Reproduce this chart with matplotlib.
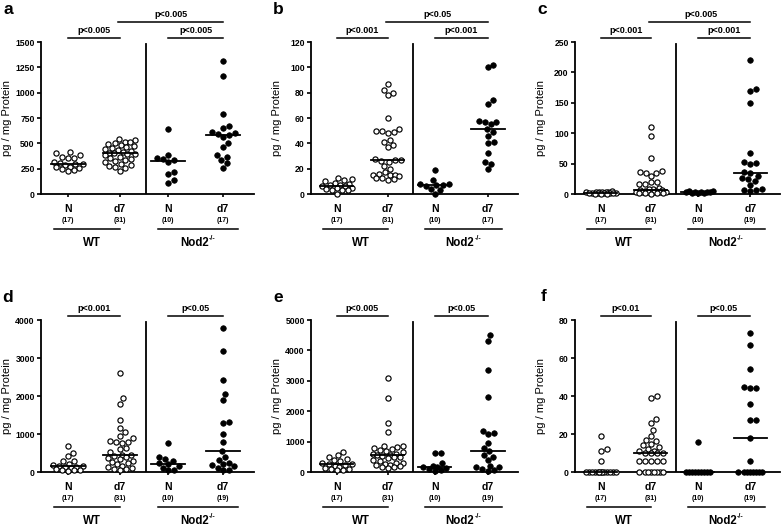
import numpy as np
import matplotlib
matplotlib.use('Agg')
import matplotlib.pyplot as plt

plt.rcParams['font.family'] = ['Liberation Sans', 'DejaVu Sans']
plt.rcParams['font.weight'] = 'bold'

# ---- data (pg / mg protein) ----
a_wt_n = [410, 400, 380, 370, 360, 355, 320, 310, 300, 295, 290, 270, 265, 260, 250, 235, 230]
a_wt_d7 = [540, 530, 510, 510, 500, 490, 480, 470, 460, 450, 440, 430, 420, 410, 405, 400,
           395, 390, 380, 370, 360, 350, 340, 330, 320, 300, 290, 280, 270, 260, 230]
a_ko_n = [640, 380, 360, 350, 340, 320, 220, 200, 140, 110]
a_ko_d7 = [1310, 1160, 790, 670, 650, 610, 600, 590, 585, 560, 500, 460, 380, 370, 340, 310, 260]

b_wt_n = [13, 12, 11, 10, 9, 8, 7, 7, 6, 6, 5, 5, 4, 3, 3, 3, 0]
b_wt_d7 = [87, 82, 80, 78, 60, 51, 50, 50, 49, 48, 43, 41, 39, 37, 28, 27,
           27, 26, 25, 22, 20, 17, 16, 15, 15, 15, 14, 13, 13, 12, 11]
b_ko_n = [19, 11, 8, 8, 7, 7, 6, 4, 3, 0]
b_ko_d7 = [102, 100, 74, 71, 58, 57, 57, 55, 51, 49, 46, 41, 40, 32, 25, 24, 20]

c_wt_n = [5, 4, 4, 4, 3, 3, 3, 2, 2, 2, 1, 1, 1, 1, 0, 0, 0]
c_wt_d7 = [110, 95, 60, 38, 36, 35, 34, 29, 20, 19, 17, 16, 10, 9, 8, 7,
           6, 5, 5, 4, 4, 4, 3, 3, 3, 3, 2, 2, 1, 1, 0]
c_ko_n = [5, 5, 4, 4, 3, 3, 3, 2, 2, 1]
c_ko_d7 = [220, 172, 170, 150, 68, 52, 51, 50, 37, 34, 30, 26, 24, 22, 15, 8, 7, 6, 5]

d_wt_n = [680, 490, 420, 300, 280, 200, 180, 160, 150, 130, 120, 100, 80, 60, 50, 40, 30]
d_wt_d7 = [2600, 1940, 1800, 1360, 1170, 1050, 950, 900, 820, 800, 780, 760, 640, 610, 530, 450,
           440, 420, 400, 380, 350, 300, 260, 240, 200, 160, 130, 110, 90, 80, 60]
d_ko_n = [760, 400, 350, 300, 230, 210, 150, 100, 60, 40]
d_ko_d7 = [3800, 3180, 2430, 2050, 1900, 1320, 1300, 990, 800, 540,
           400, 320, 250, 200, 180, 150, 100, 60, 40]

e_wt_n = [650, 560, 500, 430, 400, 350, 300, 270, 250, 240, 200, 160, 130, 110, 100, 80, 60]
e_wt_d7 = [3080, 2450, 1600, 1320, 850, 840, 830, 780, 750, 720, 680, 650, 600, 580, 560, 550,
           530, 500, 480, 450, 400, 350, 300, 280, 260, 240, 220, 200, 180, 160, 140]
e_ko_n = [640, 620, 300, 200, 160, 150, 140, 100, 60, 40]
e_ko_d7 = [4500, 4320, 3350, 2480, 1360, 1280, 1250, 950, 800, 680,
           560, 500, 400, 200, 180, 150, 100, 60, 40]

f_wt_n = [19, 12, 11, 6, 0, 0, 0, 0, 0, 0, 0, 0, 0, 0, 0, 0, 0]
f_wt_d7 = [40, 39, 28, 26, 22, 19, 17, 16.5, 15, 14, 13, 12, 11, 11, 10, 10,
           10, 10, 6, 6, 6, 6, 6, 0, 0, 0, 0, 0, 0, 0, 0]
f_ko_n = [16, 0, 0, 0, 0, 0, 0, 0, 0, 0]
f_ko_d7 = [73, 67, 54, 45, 44, 44, 36, 27.5, 27.5, 18, 6, 0, 0, 0, 0, 0, 0, 0, 0]

group_labels = ['N', 'd7', 'N', 'd7']
genotypes = ['WT', 'Nod2']
ko_sup = '-/-'
panel_letters = ['a', 'b', 'c', 'd', 'e', 'f']
y_max = [1500, 120, 250, 4000, 5000, 80]
y_step = [250, 20, 50, 1000, 1000, 20]
n_labels = [[17, 31, 10, 17], [17, 31, 10, 17], [17, 31, 10, 19],
            [17, 31, 10, 19], [17, 31, 10, 19], [17, 31, 10, 19]]
p_wt = ['p<0.005', 'p<0.001', 'p<0.001', 'p<0.001', 'p<0.005', 'p<0.01']
p_cross = ['p<0.005', 'p<0.05', 'p<0.005', None, None, None]
p_ko = ['p<0.005', 'p<0.001', 'p<0.001', 'p<0.05', 'p<0.05', 'p<0.05']

panel_data = [
    [a_wt_n, a_wt_d7, a_ko_n, a_ko_d7],
    [b_wt_n, b_wt_d7, b_ko_n, b_ko_d7],
    [c_wt_n, c_wt_d7, c_ko_n, c_ko_d7],
    [d_wt_n, d_wt_d7, d_ko_n, d_ko_d7],
    [e_wt_n, e_wt_d7, e_ko_n, e_ko_d7],
    [f_wt_n, f_wt_d7, f_ko_n, f_ko_d7],
]

# ---- layout (pixels of the 783x527 canvas) ----
W, H = 783, 527
cols = [(41, 254), (311, 518), (575, 780)]
rows = [(42, 194), (320, 472)]
letter_pos = [(3, 14), (273, 14), (537, 14), (2, 302), (273, 302), (541, 301)]
group_x = [0.125, 0.37, 0.598, 0.855]   # axes fraction
divider_x = 0.495

MARK_D = 5.9    # px, min distance between swarm points
MAX_HALF = 15   # px, max swarm half width


def swarm(ax, xc, vals):
    """Simple beeswarm: returns x positions (axes fraction)."""
    vals = np.asarray(vals, float)
    ys = ax.transData.transform(np.column_stack([np.zeros(len(vals)), vals]))[:, 1]
    axw = ax.bbox.width
    steps = np.arange(0, MAX_HALF + 0.01, 0.5)
    cands = [0.0]
    for s in steps[1:]:
        cands += [s, -s]
    offs = np.zeros(len(vals))
    placed = []
    for i in np.argsort(ys):
        best, best_score, fallback = None, -1, 0.0
        for c in cands:
            if placed:
                p = np.array(placed)
                md = np.min(np.hypot(p[:, 0] - c, p[:, 1] - ys[i]))
            else:
                md = np.inf
            if md >= MARK_D:
                best = c
                break
            if md > best_score:
                best_score, fallback = md, c
        if best is None:
            best = fallback
        offs[i] = best
        placed.append((best, ys[i]))
    return xc + offs / axw


fig = plt.figure(figsize=(W / 100, H / 100), dpi=100)

for k in range(6):
    l, r = cols[k % 3]
    t, b = rows[k // 3]
    ax = fig.add_axes([l / W, 1 - b / H, (r - l) / W, (b - t) / H])
    axh = ax.bbox.height
    ax.set_xlim(0, 1)
    ax.set_ylim(0, y_max[k])
    ax.set_yticks(np.arange(0, y_max[k] + 1, y_step[k]))
    ax.set_xticks(group_x)
    ax.set_xticklabels([])
    for s in ['top', 'right']:
        ax.spines[s].set_visible(False)
    for s in ['left', 'bottom']:
        ax.spines[s].set_linewidth(1.3)
    ax.tick_params(axis='both', direction='out', length=3, width=1.2, labelsize=6.2, pad=1.5)
    ax.tick_params(axis='x', length=2.5)
    ax.set_ylabel('pg / mg Protein', fontsize=8)
    ax.yaxis.set_label_coords(-29 / ax.bbox.width, 0.5)

    # points and medians
    for g, vals in enumerate(panel_data[k]):
        xs = swarm(ax, group_x[g], vals)
        if g < 2:
            ax.scatter(xs, vals, s=14, facecolor='white', edgecolor='black',
                       linewidth=0.85, clip_on=False, zorder=3)
        else:
            ax.scatter(xs, vals, s=16, facecolor='black', edgecolor='black',
                       linewidth=0.5, clip_on=False, zorder=3)
        med = np.median(vals)
        ax.plot([group_x[g] - 0.08, group_x[g] + 0.08], [med, med], color='black',
                lw=1.3, zorder=4, clip_on=False)

    # divider between genotypes
    ax.plot([divider_x, divider_x], [0, 0.985 * y_max[k]], color='black', lw=1.3)

    # category labels below axis
    xt = ax.get_xaxis_transform()
    for g in range(4):
        ax.text(group_x[g], -18 / axh, group_labels[g], transform=xt, ha='center',
                va='baseline', fontsize=7.5)
        ax.text(group_x[g], -27.5 / axh, '(%d)' % n_labels[k][g], transform=xt,
                ha='center', va='baseline', fontsize=5)
    ax.plot([0.06, 0.37], [-35 / axh] * 2, transform=xt, color='black', lw=1.1, clip_on=False)
    ax.plot([0.55, 0.925], [-35 / axh] * 2, transform=xt, color='black', lw=1.1, clip_on=False)
    ax.text(0.24, -52 / axh, genotypes[0], transform=xt, ha='center', va='baseline', fontsize=8.3)
    ko = ax.text(0.72, -52 / axh, genotypes[1], transform=xt, ha='center', va='baseline',
                 fontsize=8.3)
    ax.annotate(ko_sup, xy=(1.0, 0.62), xycoords=ko, ha='left', va='bottom', fontsize=5)

    # significance bars
    y1 = 1 + 4 / axh
    y2 = 1 + 20 / axh
    ax.plot([group_x[0], group_x[1]], [y1, y1], transform=xt, color='black', lw=1.1, clip_on=False)
    ax.text((group_x[0] + group_x[1]) / 2, y1 + 3 / axh, p_wt[k], transform=xt,
            ha='center', va='bottom', fontsize=6.5)
    ax.plot([group_x[2], group_x[3]], [y1, y1], transform=xt, color='black', lw=1.1, clip_on=False)
    ax.text((group_x[2] + group_x[3]) / 2, y1 + 3 / axh, p_ko[k], transform=xt,
            ha='center', va='bottom', fontsize=6.5)
    if p_cross[k] is not None:
        ax.plot([group_x[1] - 0.01, group_x[3]], [y2, y2], transform=xt, color='black',
                lw=1.1, clip_on=False)
        ax.text((group_x[1] + group_x[3]) / 2, y2 + 3 / axh, p_cross[k], transform=xt,
                ha='center', va='bottom', fontsize=6.5)

    lx, ly = letter_pos[k]
    fig.text(lx / W, 1 - ly / H, panel_letters[k], fontsize=12.5, va='baseline', ha='left')

fig.savefig('out.png', dpi=100)
